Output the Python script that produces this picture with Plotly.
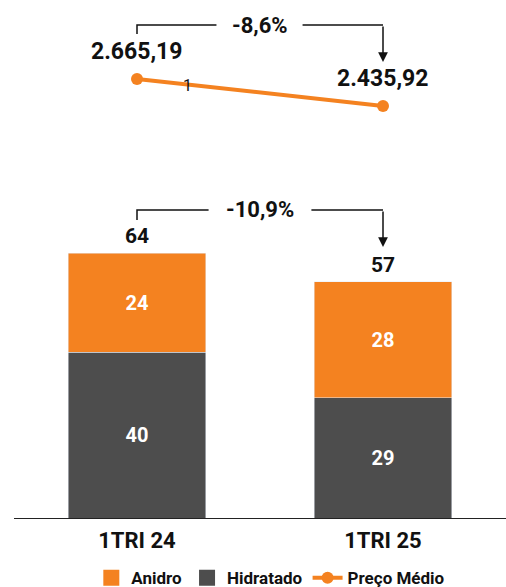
import plotly.graph_objects as go

# Data
categories = ["1TRI 24", "1TRI 25"]
hidratado = [40, 29]
anidro = [24, 28]
preco_medio = [2665.19, 2435.92]
preco_labels = ["2.665,19", "2.435,92"]
var_preco = "-8,6%"
var_volume = "-10,9%"

ORANGE = "#F48220"
GRAY = "#4D4D4D"
FONT = "Roboto"

totals = [h + a for h, a in zip(hidratado, anidro)]
x_idx = list(range(len(categories)))

fig = go.Figure()

fig.add_trace(go.Bar(
    x=x_idx, y=hidratado, name="Hidratado", marker_color=GRAY,
    text=hidratado, textposition="inside", insidetextanchor="middle",
    textfont=dict(family=FONT, size=20, color="white", weight="bold"),
    showlegend=False,
))
fig.add_trace(go.Bar(
    x=x_idx, y=anidro, name="Anidro", marker_color=ORANGE,
    text=anidro, textposition="inside", insidetextanchor="middle",
    textfont=dict(family=FONT, size=20, color="white", weight="bold"),
    showlegend=False,
))
fig.add_trace(go.Scatter(
    x=x_idx, y=preco_medio, name="Preço Médio", yaxis="y2",
    mode="lines+markers",
    line=dict(color=ORANGE, width=4),
    marker=dict(color=ORANGE, size=12),
    legendrank=3,
))

# Legend entries with larger square swatches for the bar series
for name, color, rank in [("Anidro", ORANGE, 1), ("Hidratado", GRAY, 2)]:
    fig.add_trace(go.Scatter(
        x=[None], y=[None], name=name, mode="markers",
        marker=dict(symbol="square", size=18, color=color),
        legendrank=rank,
    ))

annotations = []
# Totals above stacked bars
for i, t in enumerate(totals):
    annotations.append(dict(
        x=i, y=t, xref="x", yref="y", text=str(t), showarrow=False,
        yanchor="bottom", yshift=3,
        font=dict(family=FONT, size=21, color="#111111", weight="bold"),
    ))
# Price labels above the line points
for i, (v, lab) in enumerate(zip(preco_medio, preco_labels)):
    annotations.append(dict(
        x=i, y=v, xref="x", yref="y2", text=lab, showarrow=False,
        yanchor="bottom", yshift=12,
        font=dict(family=FONT, size=23, color="#111111", weight="bold"),
    ))

H = 518.0  # plot-area height in px (top margin is zero)


def py(p):
    """Pixel row from the top of the plot area -> paper coordinate."""
    return (H - p) / H


# Small series marker on the line
annotations.append(dict(
    x=0.205, y=py(85), xref="x", yref="paper", text="1",
    yanchor="middle", showarrow=False,
    font=dict(family=FONT, size=16, color="#111111"),
))

shapes = []


def bracket(line_px, left_px, tip_px, gap_l, gap_r, label):
    line = dict(color="#111111", width=1.5)
    shapes.append(dict(type="path", xref="x", yref="paper",
                       path=f"M 0,{py(left_px)} L 0,{py(line_px)} L {gap_l},{py(line_px)}",
                       line=line))
    shapes.append(dict(type="path", xref="x", yref="paper",
                       path=f"M {gap_r},{py(line_px)} L 1,{py(line_px)}",
                       line=line))
    annotations.append(dict(
        x=1, y=py(tip_px), xref="x", yref="paper",
        ax=0, ay=-(tip_px - line_px), axref="pixel", ayref="pixel",
        text="", showarrow=True, standoff=0,
        arrowhead=2, arrowsize=1.3, arrowwidth=1.5, arrowcolor="#111111",
    ))
    annotations.append(dict(
        x=0.5, y=py(line_px), xref="x", yref="paper", text=label,
        yanchor="middle", showarrow=False,
        font=dict(family=FONT, size=22, color="#111111", weight="bold"),
    ))


bracket(25, 34, 62, 0.323, 0.673, var_preco)
bracket(210, 220, 247, 0.291, 0.709, var_volume)

fig.update_layout(
    width=506, height=587,
    margin=dict(l=14, r=0, t=0, b=69, autoexpand=False),
    paper_bgcolor="white", plot_bgcolor="white",
    barmode="stack", bargap=0.443,
    font=dict(family=FONT, color="#111111"),
    xaxis=dict(
        range=[-0.5, 1.5], tickmode="array", tickvals=x_idx, ticktext=categories,
        showline=True, linecolor="#222222", linewidth=1.2, showgrid=False,
        zeroline=False, ticks="", ticklabelstandoff=2,
        tickfont=dict(family=FONT, size=22, color="#111111", weight="bold"),
    ),
    yaxis=dict(range=[0, 125.1], visible=False, showgrid=False),
    yaxis2=dict(range=[-1062.4, 3336.0], overlaying="y", visible=False,
                showgrid=False),
    legend=dict(
        orientation="h", x=0.522, xanchor="center", y=-0.116, yanchor="middle",
        font=dict(family=FONT, size=17, color="#111111", weight="bold"),
        traceorder="normal", itemsizing="trace",
    ),
    annotations=annotations,
    shapes=shapes,
    showlegend=True,
)

fig.write_html("out.html")
